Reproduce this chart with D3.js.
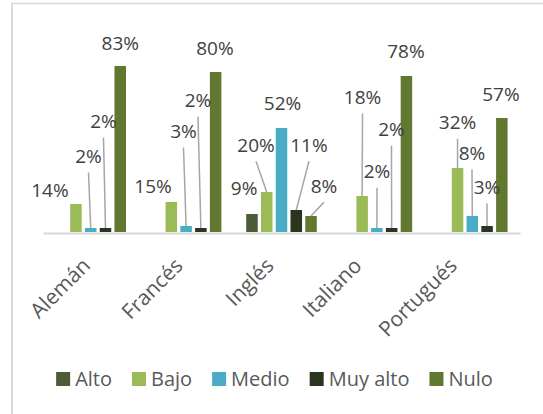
<!DOCTYPE html>
<html><head><meta charset="utf-8">
<script src="https://cdn.jsdelivr.net/npm/d3@7/dist/d3.min.js"></script>
<style>body{margin:0;background:#fff}svg{display:block}</style>
</head><body><svg id="c" width="543" height="414"></svg>
<script>
const categories = ["Alemán", "Francés", "Inglés", "Italiano", "Portugués"];
const seriesNames = ["Alto", "Bajo", "Medio", "Muy alto", "Nulo"];
const alto    = [null, null, 0.09, null, null];
const bajo    = [0.14, 0.15, 0.20, 0.18, 0.32];
const medio   = [0.02, 0.03, 0.52, 0.02, 0.08];
const muyAlto = [0.02, 0.02, 0.11, 0.02, 0.03];
const nulo    = [0.83, 0.80, 0.08, 0.78, 0.57];
const seriesValues = [alto, bajo, medio, muyAlto, nulo];
const colors = ["#4d5b37", "#9bbb59", "#4bacc6", "#2a3520", "#617830"];

// label layout: [dx, dy, leader] relative to top-centre of each bar (per category, per series)
const labelLayout = [
  [null, [-26, -7, 0], [-2.2, -65, 1], [-2, -100, 1], [0, -16, 0]],
  [null, [-18.3, -9.3, 0], [-2.6, -88, 1], [-2.9, -120.7, 1], [-0.7, -17, 0]],
  [[-7.9, -19, 0], [-10.7, -40.3, 1], [1, -18, 0], [12.7, -58.3, 1], [12.9, -23.3, 1]],
  [null, [0.4, -92, 1], [0.1, -49.7, 1], [-0.2, -92, 1], [-0.5, -17.7, 0]],
  [null, [0, -38.7, 1], [-0.3, -56, 1], [-0.1, -32, 1], [-0.9, -17.3, 0]]
];
// horizontal shift of each rotated category label's end point from the category centre
const catLabelShift = [1, -2, -6.5, -14, -14];

const svg = d3.select("#c");
const font = "'Open Sans', sans-serif";

// chart frame
svg.append("line").attr("x1", 12).attr("x2", 12).attr("y1", 3).attr("y2", 414)
  .attr("stroke", "#d9d9d9").attr("stroke-width", 2);
svg.append("line").attr("x1", 11).attr("x2", 543).attr("y1", 3.5).attr("y2", 3.5)
  .attr("stroke", "#d9d9d9").attr("stroke-width", 1.5);

const x0 = d3.scaleBand().domain(categories).range([43, 520]).paddingInner(0.26).paddingOuter(0.13);
const x1 = d3.scaleBand().domain(seriesNames).range([0, x0.bandwidth()]).paddingInner(0.22).paddingOuter(0);
const y = d3.scaleLinear().domain([0, 1]).range([232, 32]);

const data = [];
categories.forEach((c, i) => {
  seriesNames.forEach((s, j) => {
    const v = seriesValues[j][i];
    if (v != null) data.push({c, s, i, j, v});
  });
});

// bars
svg.append("g").selectAll("rect").data(data).join("rect")
  .attr("x", d => x0(d.c) + x1(d.s))
  .attr("width", x1.bandwidth())
  .attr("y", d => y(d.v))
  .attr("height", d => y(0) - y(d.v))
  .attr("fill", d => colors[d.j]);

// axis line
const xAxis = d3.axisBottom(x0).tickSize(0).tickFormat("");
const ax = svg.append("g").attr("transform", `translate(0,${y(0) + 1})`).call(xAxis);
ax.select(".domain").attr("stroke", "#d9d9d9").attr("stroke-width", 2);

// category labels rotated
svg.append("g").selectAll("text").data(categories).join("text")
  .attr("transform", (d, i) => `translate(${x0(d) + x0.bandwidth() / 2 + catLabelShift[i]},${y(0) + 35}) rotate(-45)`)
  .attr("text-anchor", "end")
  .attr("font-family", font).attr("font-size", 21).attr("fill", "#595959")
  .text(d => d);

// data labels and leader lines
const fmt = d3.format(".0%");
const lg = svg.append("g");
data.forEach(d => {
  const L = labelLayout[d.i][d.j];
  if (!L) return;
  const bx = x0(d.c) + x1(d.s) + x1.bandwidth() / 2;
  const by = y(d.v);
  const lx = bx + L[0], ly = by + L[1];
  if (L[2]) {
    lg.append("line").attr("x1", lx).attr("y1", ly + 9.5).attr("x2", bx).attr("y2", by)
      .attr("stroke", "#a6a6a6").attr("stroke-width", 1.5);
  }
  lg.append("text").attr("x", lx).attr("y", ly).attr("text-anchor", "middle")
    .attr("font-family", font).attr("font-size", 19).attr("fill", "#404040")
    .text(fmt(d.v));
});

// legend
const leg = svg.append("g");
const items = seriesNames.map((s, j) => {
  const g = leg.append("g");
  g.append("rect").attr("width", 14).attr("height", 14).attr("y", -14).attr("fill", colors[j]);
  const t = g.append("text").attr("x", 19).attr("y", 0)
    .attr("font-family", font).attr("font-size", 20).attr("fill", "#595959").text(s);
  return {g, w: 19 + t.node().getComputedTextLength()};
});
const gap = 20;
const total = d3.sum(items, d => d.w) + gap * (items.length - 1);
let cx = 274.5 - total / 2;
items.forEach(it => { it.g.attr("transform", `translate(${cx},386)`); cx += it.w + gap; });
</script></body></html>
